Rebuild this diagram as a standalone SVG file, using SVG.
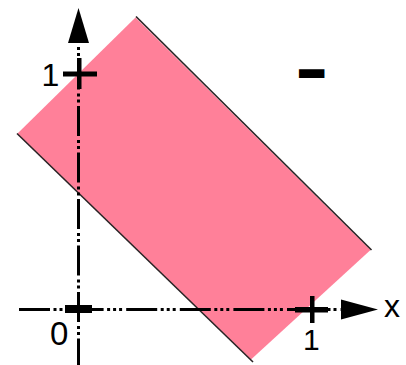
<svg xmlns="http://www.w3.org/2000/svg" width="406" height="365" viewBox="0 0 406 365">
<style>
.lbl{font-family:"Liberation Sans",Arial,sans-serif;fill:#000}
.axis{stroke:#000;stroke-width:3;fill:none}
.edge{stroke:#2a2224;stroke-width:1.6;fill:none}
</style>
<rect width="406" height="365" fill="#fff"/>
<g id="region">
<polygon points="135.5,17.5 370.5,250 251,359.5 17.5,133.5" fill="#FF8099"/>
<line class="edge" x1="136" y1="16.5" x2="371.5" y2="250"/>
<line class="edge" x1="17" y1="133.5" x2="253" y2="362"/>
</g>
<g id="axes">
<line class="axis" x1="78.5" y1="13" x2="78.5" y2="365" stroke-dasharray="30 4 3 3 3 3.5"/>
<polygon points="78.5,8 89,43 68,43" fill="#000"/>
<line class="axis" x1="19" y1="309.5" x2="345" y2="309.5" stroke-dasharray="31 3.5 3 3 3 3 3 4.1"/>
<polygon points="378,309.5 341,299.5 341,319.5" fill="#000"/>
</g>
<g id="ticks" fill="#000">
<rect x="63" y="71.5" width="34" height="5"/>
<rect x="77" y="58" width="4.5" height="31"/>
<rect x="295" y="307" width="33" height="5.5"/>
<rect x="310" y="296" width="4.5" height="27"/>
<rect x="65" y="305" width="27" height="8"/>
</g>
<g id="labels">
<text class="lbl" x="41.5" y="86" font-size="32">1</text>
<text class="lbl" x="50" y="345" font-size="33">0</text>
<text class="lbl" x="303" y="350" font-size="30">1</text>
<text class="lbl" x="384" y="317" font-size="32">x</text>
<text class="lbl" x="300" y="87" font-size="40" stroke="#000" stroke-width="6">−</text>
</g>
</svg>
